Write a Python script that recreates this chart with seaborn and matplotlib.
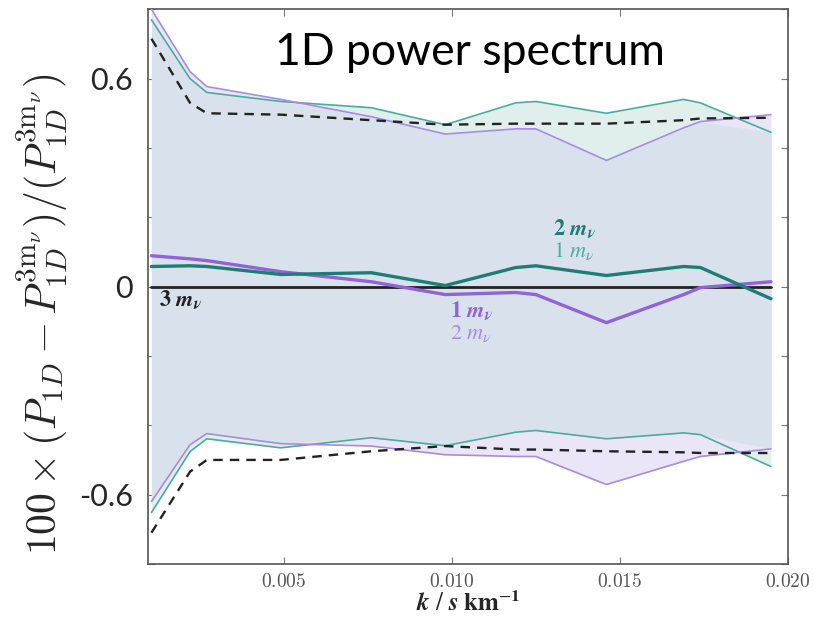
import numpy as np
import pandas as pd
import matplotlib
matplotlib.use("Agg")
import matplotlib.pyplot as plt
import seaborn as sns

sns.set_theme(style="white")
plt.rcParams['mathtext.fontset'] = 'cm'

k = [0.00105, 0.0022, 0.0027, 0.0049, 0.0076, 0.0098, 0.0119, 0.0125, 0.0146, 0.0169, 0.0174, 0.0195]

upper_1 = [0.77, 0.60, 0.56, 0.534, 0.516, 0.467, 0.53, 0.534, 0.50, 0.54, 0.53, 0.445]
upper_2 = [0.80, 0.62, 0.577, 0.54, 0.49, 0.44, 0.455, 0.455, 0.364, 0.458, 0.476, 0.496]
upper_3 = [0.715, 0.53, 0.50, 0.496, 0.48, 0.467, 0.47, 0.47, 0.47, 0.48, 0.485, 0.487]
lower_1 = [-0.652, -0.476, -0.439, -0.465, -0.436, -0.459, -0.42, -0.415, -0.439, -0.422, -0.427, -0.519]
lower_2 = [-0.62, -0.456, -0.424, -0.453, -0.46, -0.485, -0.49, -0.49, -0.571, -0.504, -0.49, -0.468]
lower_3 = [-0.71, -0.534, -0.50, -0.50, -0.475, -0.46, -0.47, -0.47, -0.475, -0.478, -0.48, -0.48]
center_teal = [0.058, 0.06, 0.058, 0.035, 0.04, 0.003, 0.055, 0.06, 0.032, 0.058, 0.055, -0.035]
center_purple = [0.089, 0.08, 0.075, 0.043, 0.014, -0.023, -0.017, -0.023, -0.104, -0.023, -0.003, 0.014]
zero_line = [0.0] * len(k)

yticks = [-0.8, -0.6, -0.4, -0.2, 0.0, 0.2, 0.4, 0.6, 0.8]
ytick_labels = ["", "-0.6", "", "", "0", "", "", "0.6", ""]
xticks = [0.005, 0.010, 0.015, 0.020]
xtick_labels = ["$0.005$", "$0.010$", "$0.015$", "$0.020$"]

TEAL_THIN = "#4aab9f"
TEAL_THICK = "#1f7d76"
PURP_THIN = "#a68ce2"
PURP_THICK = "#9163d8"

fig = plt.figure(figsize=(8.18, 6.17), dpi=100)
ax = fig.add_axes([0.181, 0.086, 0.782, 0.899])

ka = np.array(k)
u1, u2 = np.array(upper_1), np.array(upper_2)
l1, l2 = np.array(lower_1), np.array(lower_2)

# fills: each band, then the overlap
ax.fill_between(ka, l1, u1, color="#e0efec", lw=0, zorder=1)
ax.fill_between(ka, l2, u2, color="#ebe6f7", lw=0, zorder=1)
ax.fill_between(ka, np.maximum(l1, l2), np.minimum(u1, u2), color="#d9e2ec", lw=0, zorder=1.5)

sns.lineplot(x=k, y=upper_1, ax=ax, color=TEAL_THIN, lw=1.2, zorder=3)
sns.lineplot(x=k, y=lower_1, ax=ax, color=TEAL_THIN, lw=1.2, zorder=3)
sns.lineplot(x=k, y=upper_2, ax=ax, color=PURP_THIN, lw=1.2, zorder=3)
sns.lineplot(x=k, y=lower_2, ax=ax, color=PURP_THIN, lw=1.2, zorder=3)
sns.lineplot(x=k, y=upper_3, ax=ax, color="#222222", lw=1.7, zorder=4, linestyle=(0, (4, 3)))
sns.lineplot(x=k, y=lower_3, ax=ax, color="#222222", lw=1.7, zorder=4, linestyle=(0, (4, 3)))
sns.lineplot(x=k, y=zero_line, ax=ax, color="#222222", lw=2.0, zorder=4)
sns.lineplot(x=k, y=center_purple, ax=ax, color=PURP_THICK, lw=2.4, zorder=5)
sns.lineplot(x=k, y=center_teal, ax=ax, color=TEAL_THICK, lw=2.4, zorder=5)

ax.set_xlim(0.00095, 0.0200)
ax.set_ylim(-0.8, 0.8)
ax.set_yticks(yticks)
ax.set_yticklabels(ytick_labels, fontsize=22, family="Lato")
ax.set_xticks(xticks)
ax.set_xticklabels(xtick_labels, fontsize=14, color="#555555")
ax.tick_params(direction="in", length=5, width=0.8, color="#777777", top=True, right=True,
               bottom=True, left=True, pad=6)
ax.tick_params(axis="y", pad=11)
for s in ax.spines.values():
    s.set_color("#555555")
    s.set_linewidth(1.2)

ax.set_xlabel(r"$\mathbfit{k}\ /\ \mathbfit{s}\ \mathbf{km}^{-\mathbf{1}}$", fontsize=18, labelpad=0,
              math_fontfamily="stix")
fig.text(0.052, 0.49, r"$100\times(P_{1D}-P_{1D}^{3\mathrm{m}_\nu})/(P_{1D}^{3\mathrm{m}_\nu})$",
         rotation=90, fontsize=30, ha="center", va="center")

ax.text(0.198, 0.899, "1D power spectrum", transform=ax.transAxes, fontsize=32,
        family="Lato", va="baseline", ha="left", color="black")

lab_kw = dict(fontsize=16, ha="left", va="center", math_fontfamily="stix")
ax.text(0.0130, 0.168, r"$\mathbf{2}\ \mathbfit{m}_{\mathbfit{\nu}}$", color=TEAL_THICK, **lab_kw)
ax.text(0.0130, 0.103, r"$1\ m_\nu$", color=TEAL_THIN, **lab_kw)
ax.text(0.00995, -0.070, r"$\mathbf{1}\ \mathbfit{m}_{\mathbfit{\nu}}$", color=PURP_THICK, **lab_kw)
ax.text(0.00995, -0.135, r"$2\ m_\nu$", color=PURP_THIN, **lab_kw)
ax.text(0.00127, -0.0375, r"$\mathbf{3}\ \mathbfit{m}_{\mathbfit{\nu}}$", color="#222222", **lab_kw)

fig.savefig("out.png", dpi=100)
